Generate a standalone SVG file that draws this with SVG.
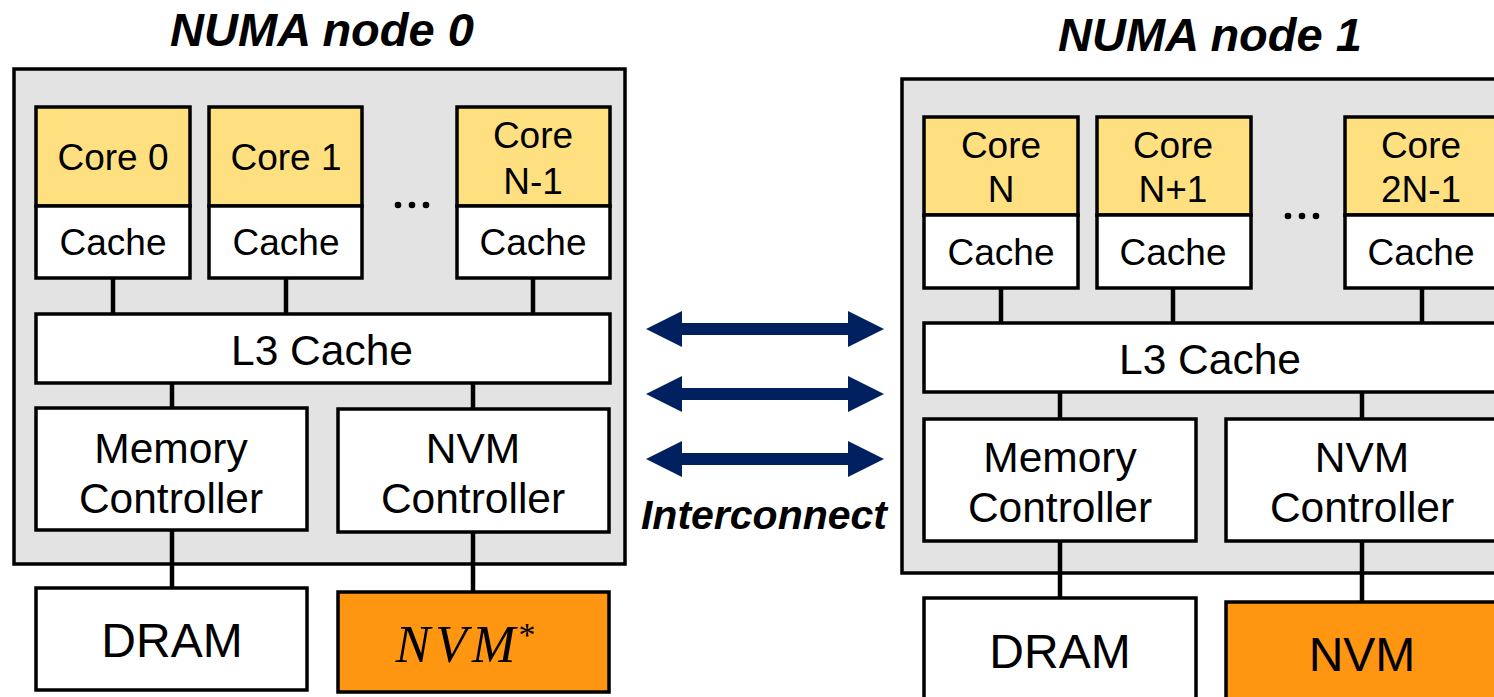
<svg xmlns="http://www.w3.org/2000/svg" width="1494" height="697" viewBox="0 0 1494 697">
<defs>
<style>
.outer{fill:#e3e3e3;stroke:#000;stroke-width:3.5}
.core{fill:#ffe081;stroke:#000;stroke-width:3.5}
.box{fill:#fff;stroke:#000;stroke-width:3.5}
.nvm{fill:#ff9612;stroke:#000;stroke-width:3.5}
.wire{stroke:#000;stroke-width:4.5;fill:none}
.t{font-family:"Liberation Sans",Arial,sans-serif;fill:#000;text-anchor:middle}
.s36{font-size:37px}
.s41{font-size:42.5px}
.s46{font-size:48px}
.title{font-family:"Liberation Sans",Arial,sans-serif;font-weight:bold;font-style:italic;font-size:47px;text-anchor:middle}
.arrow{fill:#002060}
.dot{fill:#000}
</style>
</defs>
<text class="title" x="322" y="46">NUMA node 0</text>
<text class="title" x="1210" y="51">NUMA node 1</text>

<g id="node0">
<rect class="outer" x="14" y="69" width="611" height="495"/>
</g>
<g id="node1">
<rect class="outer" x="902" y="79" width="620" height="494"/>
</g>

<g id="connectors">
<line class="wire" x1="113" y1="278" x2="113" y2="314"/>
<line class="wire" x1="286" y1="278" x2="286" y2="314"/>
<line class="wire" x1="533" y1="278" x2="533" y2="314"/>
<line class="wire" x1="172" y1="383" x2="172" y2="408"/>
<line class="wire" x1="473" y1="383" x2="473" y2="408"/>
<line class="wire" x1="172" y1="530" x2="172" y2="588"/>
<line class="wire" x1="473" y1="532" x2="473" y2="592"/>
<line class="wire" x1="1001" y1="288" x2="1001" y2="323"/>
<line class="wire" x1="1173" y1="288" x2="1173" y2="323"/>
<line class="wire" x1="1422" y1="288" x2="1422" y2="323"/>
<line class="wire" x1="1060" y1="392" x2="1060" y2="419"/>
<line class="wire" x1="1362" y1="392" x2="1362" y2="419"/>
<line class="wire" x1="1060" y1="541" x2="1060" y2="598"/>
<line class="wire" x1="1362" y1="541" x2="1362" y2="602"/>
<g id="interconnect">
<polygon class="arrow" points="646,329 682,311 682,323 848,323 848,311 884,329 848,347 848,335 682,335 682,347"/>
<polygon class="arrow" points="646,394 682,376 682,388 848,388 848,376 884,394 848,412 848,400 682,400 682,412"/>
<polygon class="arrow" points="646,459 682,441 682,453 848,453 848,441 884,459 848,477 848,465 682,465 682,477"/>
</g>
</g>

<g id="core0">
<rect class="core" x="36" y="107" width="154" height="99"/>
<text class="t s36" x="113" y="170">Core 0</text>
<rect class="box" x="36" y="206" width="154" height="72"/>
<text class="t s36" x="113" y="255">Cache</text>
</g>
<g id="core1">
<rect class="core" x="209" y="107" width="153" height="99"/>
<text class="t s36" x="286" y="170">Core 1</text>
<rect class="box" x="209" y="206" width="153" height="72"/>
<text class="t s36" x="286" y="255">Cache</text>
</g>
<g id="dots0">
<circle class="dot" cx="398" cy="205" r="3.3"/>
<circle class="dot" cx="412" cy="205" r="3.3"/>
<circle class="dot" cx="426" cy="205" r="3.3"/>
</g>
<g id="coreN-1">
<rect class="core" x="457" y="107" width="153" height="99"/>
<text class="t s36" x="533" y="148">Core</text>
<text class="t s36" x="533" y="194">N-1</text>
<rect class="box" x="457" y="206" width="153" height="72"/>
<text class="t s36" x="533" y="255">Cache</text>
</g>
<g id="l3-0">
<rect class="box" x="36" y="314" width="574" height="69"/>
<text class="t s41" x="322" y="365">L3 Cache</text>
</g>
<g id="memctrl0">
<rect class="box" x="36" y="408" width="271" height="122"/>
<text class="t s41" x="171" y="463">Memory</text>
<text class="t s41" x="171" y="513">Controller</text>
</g>
<g id="nvmctrl0">
<rect class="box" x="338" y="409" width="271" height="123"/>
<text class="t s41" x="473" y="463">NVM</text>
<text class="t s41" x="473" y="513">Controller</text>
</g>
<g id="dram0">
<rect class="box" x="36" y="588" width="271" height="102"/>
<text class="t s46" x="172" y="657">DRAM</text>
</g>
<g id="nvm0">
<rect class="nvm" x="338" y="592" width="271" height="100"/>
<text x="458" y="662" style="font-family:'Liberation Serif','Times New Roman',serif;font-style:italic;font-size:52px;text-anchor:middle;letter-spacing:5px">NVM</text>
<text x="527" y="646" style="font-family:'Liberation Serif','Times New Roman',serif;font-size:34px;text-anchor:middle">*</text>
</g>

<g id="coreN">
<rect class="core" x="924" y="117" width="154" height="98"/>
<text class="t s36" x="1001" y="158">Core</text>
<text class="t s36" x="1001" y="202">N</text>
<rect class="box" x="924" y="215" width="154" height="73"/>
<text class="t s36" x="1001" y="265">Cache</text>
</g>
<g id="coreN+1">
<rect class="core" x="1097" y="117" width="154" height="98"/>
<text class="t s36" x="1173" y="158">Core</text>
<text class="t s36" x="1173" y="202">N+1</text>
<rect class="box" x="1097" y="215" width="154" height="73"/>
<text class="t s36" x="1173" y="265">Cache</text>
</g>
<g id="dots1">
<circle class="dot" cx="1288" cy="216" r="3.3"/>
<circle class="dot" cx="1302" cy="216" r="3.3"/>
<circle class="dot" cx="1316" cy="216" r="3.3"/>
</g>
<g id="core2N-1">
<rect class="core" x="1345" y="117" width="154" height="98"/>
<text class="t s36" x="1421" y="158">Core</text>
<text class="t s36" x="1421" y="202">2N-1</text>
<rect class="box" x="1345" y="215" width="154" height="73"/>
<text class="t s36" x="1421" y="265">Cache</text>
</g>
<g id="l3-1">
<rect class="box" x="924" y="323" width="590" height="69"/>
<text class="t s41" x="1210" y="374">L3 Cache</text>
</g>
<g id="memctrl1">
<rect class="box" x="924" y="419" width="272" height="122"/>
<text class="t s41" x="1060" y="472">Memory</text>
<text class="t s41" x="1060" y="522">Controller</text>
</g>
<g id="nvmctrl1">
<rect class="box" x="1226" y="419" width="272" height="122"/>
<text class="t s41" x="1362" y="472">NVM</text>
<text class="t s41" x="1362" y="522">Controller</text>
</g>
<g id="dram1">
<rect class="box" x="924" y="598" width="272" height="110"/>
<text class="t s46" x="1060" y="668">DRAM</text>
</g>
<g id="nvm1">
<rect class="nvm" x="1226" y="602" width="280" height="110"/>
<text class="t s46" x="1362" y="671">NVM</text>
</g>

<text x="764" y="529" style="font-family:'Liberation Sans',Arial,sans-serif;font-weight:bold;font-style:italic;font-size:41px;text-anchor:middle">Interconnect</text>
</svg>
